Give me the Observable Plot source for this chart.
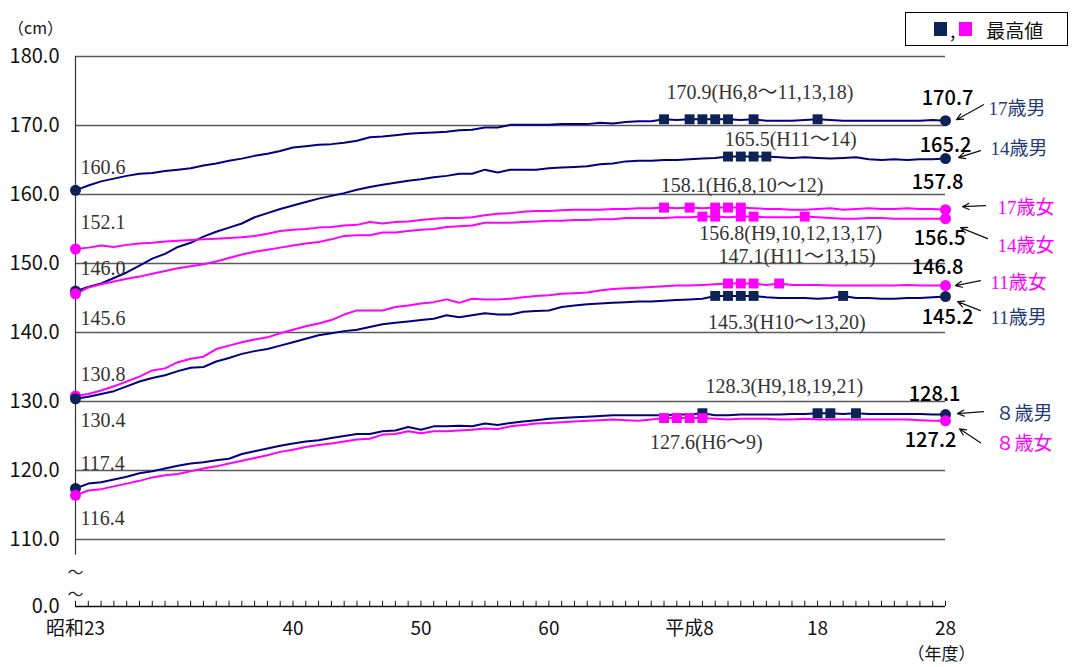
<!DOCTYPE html>
<html>
<head>
<meta charset="utf-8">
<script src="https://cdn.jsdelivr.net/npm/d3@7"></script>
<script src="https://cdn.jsdelivr.net/npm/@observablehq/plot@0.6"></script>
<style>
  html, body { margin: 0; padding: 0; background: #fff; }
  #wrap { position: relative; width: 1075px; height: 667px; }
  #legend { position: absolute; left: 905px; top: 12px; width: 163px; height: 34px;
    border: 1.5px solid #000; box-sizing: border-box; display: flex; align-items: center;
    font-family: "Noto Sans CJK JP", sans-serif; font-size: 19px; color: #111; padding-left: 28px; }
  #legend .sq { display: inline-block; width: 13px; height: 14px; }
</style>
</head>
<body>
<div id="wrap">
  <div id="chart"></div>
  <div id="legend"><span class="sq" style="background:#0d2356"></span><span style="margin:0 4px 0 3px">,</span><span class="sq" style="background:#ff00ff"></span><span style="margin-left:14px">最高値</span></div>
</div>
<script>
// ---- data ----
const years = d3.range(1948, 2017); // 昭和23 … 平成28

const boys17 = [160.6,161.3,161.9,162.3,162.7,163.0,163.1,163.4,163.6,163.8,164.2,164.5,164.9,165.2,165.6,165.9,166.3,166.8,167.0,167.2,167.3,167.5,167.8,168.3,168.4,168.6,168.8,168.9,169.0,169.1,169.3,169.4,169.7,169.7,170.1,170.1,170.1,170.1,170.2,170.2,170.2,170.4,170.3,170.5,170.6,170.6,170.9,170.8,170.9,170.9,170.9,170.9,170.8,170.9,170.7,170.7,170.7,170.8,170.9,170.8,170.7,170.7,170.7,170.7,170.7,170.7,170.7,170.8,170.7];
const boys14 = [146.0,146.6,147.1,147.9,148.7,149.7,150.7,151.4,152.4,153.0,153.9,154.6,155.2,155.8,156.7,157.3,157.9,158.4,158.9,159.4,159.8,160.2,160.7,161.1,161.4,161.7,162.0,162.2,162.5,162.7,163.0,163.0,163.6,163.2,163.6,163.6,163.6,163.8,163.9,164.0,164.1,164.4,164.5,164.8,164.9,164.9,165.0,165.0,165.1,165.2,165.3,165.5,165.5,165.5,165.5,165.4,165.3,165.4,165.3,165.2,165.3,165.4,165.1,165.0,165.1,165.0,165.1,165.1,165.2];
const girls17 = [152.1,152.3,152.6,152.4,152.7,152.9,153.0,153.2,153.3,153.4,153.5,153.6,153.7,153.8,154.0,154.3,154.7,154.9,155.0,155.2,155.3,155.5,155.6,156.0,155.8,156.0,156.1,156.3,156.5,156.6,156.6,156.7,157.0,157.2,157.3,157.5,157.6,157.6,157.7,157.8,157.8,157.8,157.9,157.9,158.0,158.0,158.1,158.0,158.1,158.0,158.1,158.1,158.1,158.0,157.9,157.9,157.8,157.8,157.9,158.0,157.8,157.9,158.0,157.9,157.9,158.0,157.9,157.9,157.8];
const girls14 = [145.6,146.5,147.0,147.4,147.8,148.1,148.5,148.9,149.3,149.6,149.9,150.3,150.8,151.3,151.7,152.0,152.3,152.6,152.9,153.1,153.5,154.0,154.1,154.1,154.5,154.5,154.7,154.9,155.0,155.3,155.4,155.5,155.9,155.9,155.9,156.0,156.1,156.2,156.2,156.3,156.3,156.4,156.4,156.6,156.6,156.6,156.6,156.7,156.7,156.8,156.8,156.7,156.8,156.8,156.7,156.7,156.7,156.8,156.7,156.6,156.5,156.5,156.6,156.6,156.5,156.5,156.5,156.5,156.5];
const girls11 = [130.8,131.1,131.6,132.2,132.9,133.6,134.5,134.8,135.7,136.2,136.5,137.6,138.1,138.6,139.0,139.3,139.9,140.4,140.9,141.3,141.8,142.6,143.2,143.2,143.2,143.7,143.9,144.2,144.4,144.8,144.3,144.9,144.8,144.8,144.9,145.1,145.3,145.4,145.6,145.7,145.8,146.1,146.3,146.4,146.5,146.6,146.7,146.8,146.8,146.9,147.0,147.1,147.1,147.1,146.9,147.1,146.9,146.9,146.9,146.8,146.8,146.8,146.8,146.8,146.8,146.9,146.8,146.8,146.8];
const boys11 = [130.4,130.7,131.1,131.5,132.2,132.9,133.4,133.8,134.4,134.9,135.0,135.8,136.3,136.9,137.3,137.6,138.1,138.6,139.1,139.6,139.9,140.2,140.4,140.8,141.2,141.4,141.6,141.8,142.0,142.5,142.2,142.5,142.8,142.6,142.6,143.0,143.1,143.2,143.7,143.9,144.1,144.2,144.3,144.4,144.5,144.5,144.6,144.7,144.8,144.9,145.3,145.3,145.3,145.3,145.1,145.0,145.0,145.0,144.9,145.0,145.3,145.0,145.0,144.9,144.9,145.0,145.0,145.1,145.2];
const boys8 = [117.4,118.1,118.3,118.7,119.1,119.6,119.9,120.3,120.7,121.0,121.2,121.5,121.7,122.4,122.8,123.2,123.6,123.9,124.2,124.4,124.7,125.0,125.3,125.3,125.7,125.8,126.3,125.9,126.4,126.4,126.5,126.4,126.8,126.6,126.9,127.1,127.3,127.5,127.6,127.7,127.8,127.9,128.0,128.0,128.0,128.0,128.0,128.1,128.1,128.3,128.0,128.0,128.1,128.1,128.1,128.1,128.2,128.2,128.3,128.3,128.2,128.3,128.2,128.2,128.2,128.2,128.2,128.1,128.1];
const girls8 = [116.4,117.1,117.3,117.7,118.1,118.5,119.0,119.3,119.5,119.9,120.3,120.6,121.0,121.4,121.8,122.2,122.7,123.0,123.4,123.7,123.9,124.2,124.5,124.6,125.2,125.3,125.7,125.4,125.7,125.7,125.8,125.9,126.1,126.0,126.4,126.6,126.8,126.9,127.0,127.1,127.2,127.3,127.4,127.3,127.2,127.4,127.6,127.6,127.6,127.6,127.5,127.4,127.5,127.5,127.5,127.4,127.4,127.5,127.4,127.4,127.4,127.4,127.4,127.4,127.4,127.4,127.3,127.2,127.2];

const seriesNames = ["17歳男","14歳男","17歳女","14歳女","11歳女","11歳男","８歳男","８歳女"];
const seriesSex   = ["M","M","F","F","F","M","M","F"];
const seriesValues = [boys17, boys14, girls17, girls14, girls11, boys11, boys8, girls8];

const maxNotes = ["170.9(H6,8～11,13,18)","165.5(H11～14)","158.1(H6,8,10～12)","156.8(H9,10,12,13,17)",
                  "147.1(H11～13,15)","145.3(H10～13,20)","128.3(H9,18,19,21)","127.6(H6～9)"];
const maxNoteSeries = ["17歳男","14歳男","17歳女","14歳女","11歳女","11歳男","８歳男","８歳女"];

const yTicks = [180,170,160,150,140,130,120,110];
const xMajor = [1948,1965,1975,1985,1996,2006,2016];
const xLabels = ["昭和23","40","50","60","平成8","18","28"];

// ---- layout (pixel offsets, kept apart from the data) ----
const Y0 = 100.29;           // position of the "0.0" after the axis break
const PXX = 12.794, PXY = 6.9; // pixels per year / per cm (for arrow offsets)
const startLayout = {"17歳男":-23,"14歳男":-23,"17歳女":-26,"14歳女":25,"11歳女":-21,"11歳男":22,"８歳男":-25,"８歳女":23};
const endLayout = {"17歳男":[2,-22],"14歳男":[0,-13],"17歳女":[-8,-27],"14歳女":[-6,20],"11歳女":[-8,-18],"11歳男":[2,21],"８歳男":[-11,-20],"８歳女":[-15,20]};
const nameLayout = {"17歳男":[43,-12],"14歳男":[45,-10],"17歳女":[52,-2],"14歳女":[52,27],"11歳女":[45,-3],"11歳男":[45,21],"８歳男":[50,-1],"８歳女":[50,23]};
const arrowLayout = {"17歳男":[38,-16,11,-1],"14歳男":[35,-8,13,-1],"17歳女":[40,-4,17,-3],"14歳女":[42,20,15,9],
                     "11歳女":[35,-5,10,0],"11歳男":[35,14,12,5],"８歳男":[38,-3,12,-1],"８歳女":[35,22,14,8]};
const noteLayout = [[2001.5,-27],[2003.9,-17],[2000.1,-22],[2003.9,17],[2004.4,-27],[2003.6,27],[2003.4,-27],[1997.3,25]];

const MCOL = "#000080", MDOT = "#0d2356", FCOL = "#ff00ff";
const SERIF = "'Liberation Serif', 'Noto Sans CJK JP', serif";
const SANS = "'Noto Sans CJK JP', sans-serif";

const data = seriesNames.flatMap((name, s) =>
  seriesValues[s].map((v, i) => ({name, sex: seriesSex[s], year: years[i], value: v})));
const starts = data.filter(d => d.year === years[0]);
const ends = data.filter(d => d.year === years[years.length - 1]);
const maxima = seriesNames.flatMap((name, s) => {
  const m = d3.max(seriesValues[s]);
  return data.filter(d => d.name === name && d.value === m);
});
const notes = maxNotes.map((t, i) => {
  const s = seriesNames.indexOf(maxNoteSeries[i]);
  return {text: t, x: noteLayout[i][0], y: d3.max(seriesValues[s]), dy: noteLayout[i][1]};
});
const arrows = ends.map(d => {
  const a = arrowLayout[d.name];
  return {x1: d.year + a[0]/PXX, y1: d.value - a[1]/PXY, x2: d.year + a[2]/PXX, y2: d.value - a[3]/PXY};
});
const lineColor = d => d.sex === "M" ? MCOL : FCOL;
const dotColor = d => d.sex === "M" ? MDOT : FCOL;
const labelColor = d => d.sex === "M" ? "#1f3c78" : FCOL;

const chart = Plot.plot({
  width: 1075, height: 667,
  marginLeft: 75, marginRight: 130, marginTop: 56, marginBottom: 61,
  x: {domain: [1948, 2016]},
  y: {domain: [Y0, 180]},
  style: {fontFamily: SANS, background: "white", color: "#111"},
  marks: [
    Plot.ruleY(yTicks, {stroke: "#5a5a5a", strokeWidth: 1.3}),
    Plot.ruleX([years[0]], {y1: 107.7, y2: 180, stroke: "#333", strokeWidth: 1.2}),
    Plot.ruleY([Y0], {stroke: "#111", strokeWidth: 1.3}),
    Plot.ruleX(years, {x: d => d, y1: Y0, y2: Y0 + 0.75, stroke: "#111", strokeWidth: 1}),
    Plot.text(["～", "～"], {x: years[0], y: [105.2, 102.0], text: d => d, fontSize: 16, fill: "#222", dx: 0}),
    Plot.axisY({ticks: yTicks.concat([Y0]), tickFormat: d => d < 105 ? "0.0" : d.toFixed(1), tickSize: 0, tickPadding: 16, fontSize: 20, label: null}),
    Plot.axisX({ticks: xMajor, tickFormat: d => xLabels[xMajor.indexOf(d)], tickSize: 0, tickPadding: 15, fontSize: 19, label: null}),
    Plot.text(["（cm）"], {frameAnchor: "top-left", textAnchor: "middle", dx: -40, dy: -34, fontSize: 16, fill: "#111"}),
    Plot.text(["（年度）"], {frameAnchor: "bottom-right", textAnchor: "middle", dx: -4, dy: 53, fontSize: 17, fill: "#111"}),
    Plot.line(data, {x: "year", y: "value", z: "name", stroke: lineColor, strokeWidth: 2}),
    Plot.dot(maxima, {x: "year", y: "value", symbol: "square", r: 5.6, fill: dotColor}),
    Plot.dot(starts, {x: "year", y: "value", r: 5.5, fill: dotColor}),
    Plot.dot(ends, {x: "year", y: "value", r: 5.5, fill: dotColor}),
    ...starts.map(d => Plot.text([d], {x: "year", y: "value", text: d => d.value.toFixed(1), textAnchor: "start", dx: 5, dy: startLayout[d.name], fontFamily: SERIF, fontSize: 20, fill: "#333", letterSpacing: 0.8})),
    ...ends.map(d => Plot.text([d], {x: "year", y: "value", text: d => d.value.toFixed(1), dx: endLayout[d.name][0], dy: endLayout[d.name][1], fontFamily: SANS, fontSize: 20, fontWeight: 500, fill: "#000"})),
    ...ends.map(d => Plot.text([d], {x: "year", y: "value", text: "name", textAnchor: "start", dx: nameLayout[d.name][0], dy: nameLayout[d.name][1], fontFamily: SERIF, fontSize: 19, fill: labelColor})),
    ...notes.map(n => Plot.text([n], {x: "x", y: "y", text: "text", dy: n.dy, fontFamily: SERIF, fontSize: 20, fill: "#333", letterSpacing: 0.8})),
    Plot.arrow(arrows, {x1: "x1", y1: "y1", x2: "x2", y2: "y2", stroke: "#111", strokeWidth: 1.2, headLength: 9, headAngle: 50})
  ]
});
document.getElementById("chart").appendChild(chart);
</script>
</body>
</html>
